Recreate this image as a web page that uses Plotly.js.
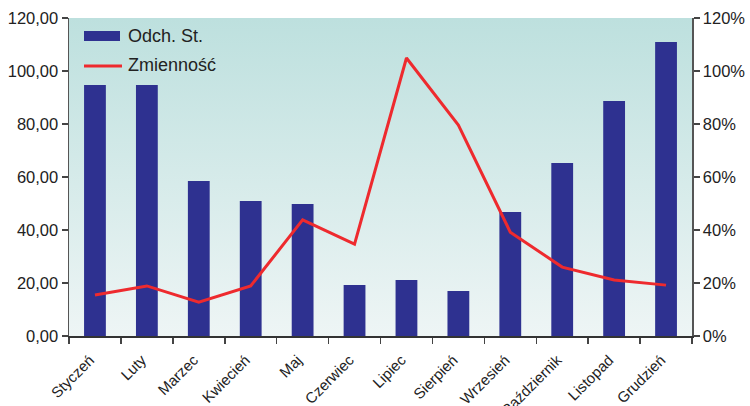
<!DOCTYPE html>
<html>
<head>
<meta charset="utf-8">
<script src="https://cdn.plot.ly/plotly-3.0.1.min.js"></script>
<style>
html,body{margin:0;padding:0;background:#fff;}
#chart{width:750px;height:406px;}
</style>
</head>
<body>
<div id="chart"></div>
<script>
const months = ["Styczeń","Luty","Marzec","Kwiecień","Maj","Czerwiec","Lipiec","Sierpień","Wrzesień","Październik","Listopad","Grudzień"];
const odchSt = [94.7, 94.7, 58.5, 50.9, 49.8, 19.2, 21.1, 17.0, 46.8, 65.3, 88.7, 110.9];
const zmiennosc = [15.5, 18.9, 12.8, 18.9, 43.8, 34.7, 104.9, 79.6, 39.2, 26.0, 21.1, 19.2];
const leftTicks = [0, 20, 40, 60, 80, 100, 120];
const rightTicks = [0, 20, 40, 60, 80, 100, 120];
const rightTickText = rightTicks.map(v => v + '%');
const seriesNames = ["Odch. St.", "Zmienność"];

const barColor = '#2e3190';
const lineColor = '#ee2a2e';
const FONT = 'Liberation Sans, Arial, sans-serif';

const gradSvg = '<svg xmlns="http://www.w3.org/2000/svg" width="100" height="100" preserveAspectRatio="none">' +
  '<defs><linearGradient id="g" x1="0" y1="0" x2="0" y2="1">' +
  '<stop offset="0" stop-color="#bde0de"/><stop offset="1" stop-color="#eef5f5"/></linearGradient></defs>' +
  '<rect width="100" height="100" fill="url(#g)"/></svg>';
const gradUri = 'data:image/svg+xml;base64,' + btoa(gradSvg);

const traces = [
  {
    type: 'bar', name: seriesNames[0], x: months, y: odchSt,
    marker: {color: barColor}, width: 0.42, yaxis: 'y', showlegend: false
  },
  {
    type: 'scatter', mode: 'lines', name: seriesNames[1], x: months, y: zmiennosc,
    line: {color: lineColor, width: 3}, yaxis: 'y2', showlegend: false
  }
];

const axisFont = {family: FONT, size: 16.5, color: '#222'};

// plot area in pixels: x 69..692, y 18..336
const px = v => (v - 69) / 623;
const py = v => 1 - (v - 18) / 318;

const layout = {
  width: 750, height: 406,
  margin: {l: 69, r: 58, t: 18, b: 70},
  paper_bgcolor: '#ffffff',
  plot_bgcolor: 'rgba(0,0,0,0)',
  separators: ',.',
  showlegend: false,
  images: [{
    source: gradUri, xref: 'paper', yref: 'paper', x: 0, y: 1,
    sizex: 1, sizey: 1, sizing: 'stretch', layer: 'below', xanchor: 'left', yanchor: 'top'
  }],
  shapes: [
    {type: 'rect', xref: 'paper', yref: 'paper', x0: px(84), x1: px(120), y0: py(41), y1: py(31),
     fillcolor: barColor, line: {width: 0}},
    {type: 'line', xref: 'paper', yref: 'paper', x0: px(84), x1: px(122), y0: py(66), y1: py(66),
     line: {color: lineColor, width: 3}}
  ],
  annotations: [
    {xref: 'paper', yref: 'paper', x: px(126), y: py(36), xanchor: 'left', yanchor: 'middle',
     text: seriesNames[0], showarrow: false, font: {family: FONT, size: 18, color: '#222'}},
    {xref: 'paper', yref: 'paper', x: px(126), y: py(65), xanchor: 'left', yanchor: 'middle',
     text: seriesNames[1], showarrow: false, font: {family: FONT, size: 18, color: '#222'}}
  ],
  xaxis: {
    type: 'category', tickangle: -45, tickson: 'boundaries',
    ticks: 'outside', ticklen: 6, tickcolor: '#444', tickwidth: 1.5,
    showline: true, linecolor: '#333', linewidth: 1.5,
    ticklabelstandoff: 8, ticklabelshift: -5,
    tickfont: {family: FONT, size: 15, color: '#222'},
    showgrid: false
  },
  yaxis: {
    range: [0, 120], tickmode: 'array', tickvals: leftTicks, tickformat: '.2f',
    ticks: 'outside', ticklen: 6, tickcolor: '#444', tickwidth: 1.5,
    showline: true, linecolor: '#555', linewidth: 1.5,
    showgrid: false, zeroline: false, tickfont: axisFont
  },
  yaxis2: {
    range: [0, 120], tickmode: 'array', tickvals: rightTicks, ticktext: rightTickText,
    overlaying: 'y', side: 'right',
    ticks: 'outside', ticklen: 6, tickcolor: '#444', tickwidth: 1.5,
    showline: true, linecolor: '#555', linewidth: 1.5,
    showgrid: false, zeroline: false, tickfont: axisFont
  }
};

Plotly.newPlot('chart', traces, layout, {displayModeBar: false, staticPlot: true});
</script>
</body>
</html>
